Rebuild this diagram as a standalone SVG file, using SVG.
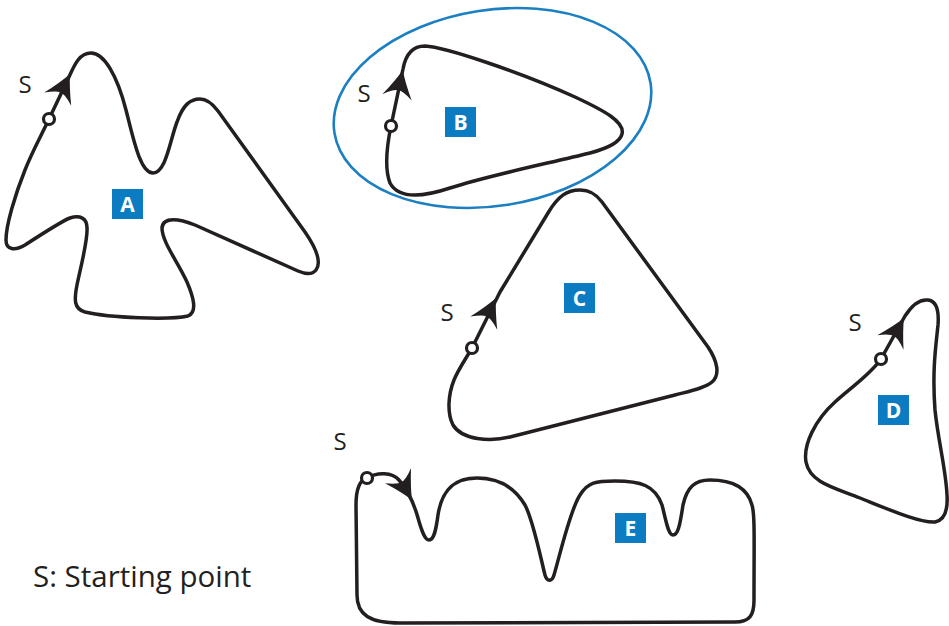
<svg xmlns="http://www.w3.org/2000/svg" xmlns:xlink="http://www.w3.org/1999/xlink" width="949" height="626" viewBox="0 0 949 626">
<style>
.loop{fill:none;stroke:#231f20;stroke-width:3.5;stroke-linejoin:round;stroke-linecap:round}
.start{fill:#fff;stroke:#231f20;stroke-width:3.2}
.s{font-family:"Open Sans","Liberation Sans",sans-serif;font-size:24px;fill:#231f20;text-anchor:middle}
.box{fill:#0b7cc1}
.lbl{font-family:"Open Sans","Liberation Sans",sans-serif;font-size:21px;font-weight:bold;fill:#fff;text-anchor:middle}
.legend{font-family:"Open Sans","Liberation Sans",sans-serif;font-size:29.5px;fill:#231f20}
</style>
<defs>
<path id="ah" d="M0,0 Q-12,5 -28,15 Q-20,4 -21,0 Q-20,-4 -28,-15 Q-12,-5 0,0 Z" fill="#231f20"/>
</defs>
<rect width="949" height="626" fill="#fff"/>
<g id="connectors"></g>
<g id="node-A">
<path class="loop" d="M49,119 L69,77 C74,66 79,53 91,53 C104,53 117,75 126,110 C133,137 140,173 153,173 C166,173 170,140 177,122 C183,105 190,99 200,99 C207,99 212,103 218,111 L305,232 C316,248 322,262 316,270 C312,275 305,274 298,271 L195,225 C180,219 163,216 162,228 C162,242 178,262 187,282 C193,296 198,312 188,316 C170,320 110,318 85,312 C74,309 74,300 77,285 C80,270 88,240 87,228 C87,218 80,215 70,218 C62,221 45,232 25,245 C15,251 6,250 6,240 C6,225 15,195 25,170 C32,152 40,138 49,119 Z"/>
<use xlink:href="#ah" transform="translate(70,74) rotate(-64)"/>
<circle class="start" cx="49" cy="119" r="5.5"/>
<text class="s" x="25" y="93">S</text>
<rect class="box" x="112" y="189" width="31" height="30"/>
<text class="lbl" x="127.5" y="211.5">A</text>
</g>
<g id="node-B">
<ellipse cx="492.5" cy="108" rx="160" ry="98" transform="rotate(-9 492.5 108)" fill="none" stroke="#1b7fc2" stroke-width="2.6"/>
<path class="loop" d="M391,126 L403,69 C405,58 410,46 425,46 C445,47 520,72 575,97 C605,111 625,122 622,134 C620,143 605,149 590,153 C550,163 490,175 450,188 C420,198 398,198 390,183 C385,170 386,150 391,126 Z"/>
<use xlink:href="#ah" transform="translate(402.8,70) rotate(-78)"/>
<circle class="start" cx="391" cy="126" r="5.5"/>
<text class="s" x="364" y="102">S</text>
<rect class="box" x="445" y="107" width="31" height="30"/>
<text class="lbl" x="460.5" y="129.5">B</text>
</g>
<g id="node-C">
<path class="loop" d="M472,348 L500,292 L548,213 C558,196 567,190 580,190 C590,190 596,194 602,202 L708,347 C718,362 720,375 712,382 C705,388 690,391 675,395 L510,437 C490,442 462,440 453,425 C447,413 448,395 454,380 C458,370 465,360 472,348 Z"/>
<use xlink:href="#ah" transform="translate(496,298) rotate(-64)"/>
<circle class="start" cx="472" cy="348" r="5.5"/>
<text class="s" x="447" y="321">S</text>
<rect class="box" x="564" y="283" width="31" height="30"/>
<text class="lbl" x="579.5" y="305.5">C</text>
</g>
<g id="node-D">
<path class="loop" d="M881,359 L905,316 C912,305 920,299 928,300 C937,301 939,312 938,325 C936,345 932,370 935,410 C938,440 946,470 947,495 C948,510 945,520 935,522 C920,523 890,510 860,498 C835,488 810,483 806,462 C803,445 815,420 835,402 C850,388 870,375 881,359 Z"/>
<use xlink:href="#ah" transform="translate(904,318) rotate(-61)"/>
<circle class="start" cx="881" cy="359" r="5.5"/>
<text class="s" x="855" y="331">S</text>
<rect class="box" x="878" y="395" width="31" height="30"/>
<text class="lbl" x="893.5" y="417.5">D</text>
</g>
<g id="node-E">
<path class="loop" d="M367,478 C377,472 392,472 399,480 C405,487 413,500 418,518 C422,532 425,540 429,540 C434,540 436,530 438,515 C441,495 450,478 477,478 C500,478 515,488 525,505 C533,520 540,555 545,575 C547,582 552,582 554,575 C560,555 570,510 580,495 C588,482 596,481 615,481 C640,481 655,485 662,505 C666,520 668,535 673,535 C678,535 680,525 683,505 C687,487 695,480 710,480 C735,480 748,490 752,505 C755,515 754,540 754,600 C754,615 750,622 735,622 L400,623 C370,623 357,615 357,595 L356,505 C356,488 360,480 367,478 Z"/>
<use xlink:href="#ah" transform="translate(412,500) rotate(60)"/>
<circle class="start" cx="367" cy="478" r="5.5"/>
<text class="s" x="340" y="450">S</text>
<rect class="box" x="615" y="513" width="31" height="30"/>
<text class="lbl" x="630.5" y="535.5">E</text>
</g>
<text class="legend" x="33" y="587">S: Starting point</text>
</svg>
